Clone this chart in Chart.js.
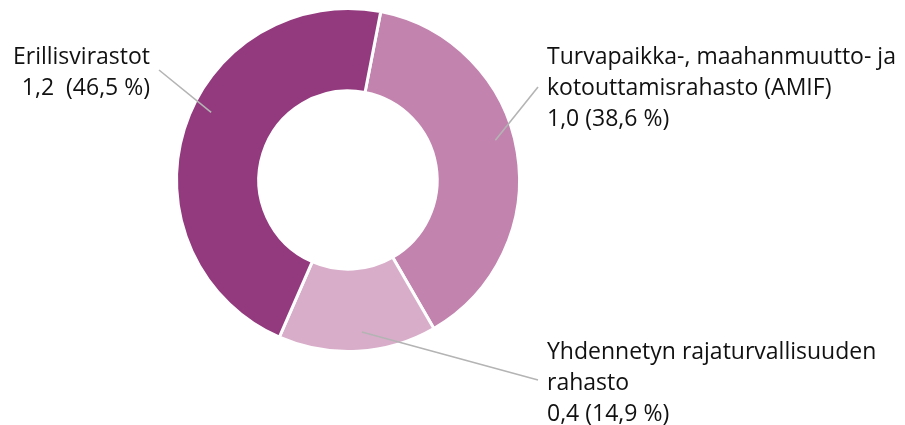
<!DOCTYPE html>
<html>
<head>
<meta charset="utf-8">
<script src="https://cdn.jsdelivr.net/npm/chart.js@4/dist/chart.umd.min.js"></script>
<style>
  html, body { margin: 0; padding: 0; background: #fff; }
  #wrap { width: 905px; height: 425px; }
</style>
</head>
<body>
<div id="wrap"><canvas id="myChart" width="905" height="425"></canvas></div>
<script>
    // data
    const categories = ['AMIF', 'Yhdennetyn rajaturvallisuuden rahasto', 'Erillisvirastot'];
    const amounts = ['1,0', '0,4', '1,2'];          // mrd. euroa
    const shares = [38.6, 14.9, 46.5];             // %
    const labelLines = [
      ['Turvapaikka-, maahanmuutto- ja', 'kotouttamisrahasto (AMIF)', '1,0 (38,6 %)'],
      ['Yhdennetyn rajaturvallisuuden', 'rahasto', '0,4 (14,9 %)'],
      ['Erillisvirastot', '1,2  (46,5 %)']
    ];
    const colors = ['#c283ae', '#d8adc9', '#933a7e'];

    // label placement (text anchor + where the leader line ends)
    const labelLayout = [
      { x: 547, y: 64, align: 'left', lineX: 538, lineY: 87, angleShift: -5.6 },
      { x: 547, y: 359, align: 'left', lineX: 538, lineY: 380, angleShift: -2 },
      { x: 150, y: 64, align: 'right', lineX: 159, lineY: 70, angleShift: 9 }
    ];

    // leader lines + texts
    const calloutPlugin = {
      id: 'callouts',
      afterDraw(chart) {
        const ctx = chart.ctx;
        const arcs = chart.getDatasetMeta(0).data;
        ctx.save();
        arcs.forEach((arc, i) => {
          const lay = labelLayout[i];
          const mid = (arc.startAngle + arc.endAngle) / 2 + lay.angleShift * Math.PI / 180;
          const r = arc.outerRadius * 0.89;
          ctx.beginPath();
          ctx.strokeStyle = '#b4b4b4';
          ctx.lineWidth = 1.6;
          ctx.moveTo(arc.x + Math.cos(mid) * r, arc.y + Math.sin(mid) * r);
          ctx.lineTo(lay.lineX, lay.lineY);
          ctx.stroke();

          ctx.fillStyle = '#111';
          ctx.font = '23px "Open Sans"';
          ctx.textAlign = lay.align;
          ctx.textBaseline = 'alphabetic';
          labelLines[i].forEach((t, j) => {
            ctx.fillText(t, lay.x, lay.y + j * 31);
          });
        });
        ctx.restore();
      }
    };

    // setup
    const data = {
      labels: categories,
      datasets: [{
        data: shares,
        backgroundColor: colors,
        borderColor: '#ffffff',
        borderWidth: 3
      }]
    };

    // config
    const config = {
      type: 'doughnut',
      data,
      options: {
        responsive: false,
        devicePixelRatio: 1,
        animation: false,
        rotation: 11,
        cutout: '52%',
        layout: { padding: { left: 175, right: 384, top: 7, bottom: 72 } },
        plugins: {
          legend: { display: false },
          tooltip: { enabled: false }
        }
      },
      plugins: [calloutPlugin]
    };

    // render init block
    const myChart = new Chart(
      document.getElementById('myChart'),
      config
    );
</script>
</body>
</html>
